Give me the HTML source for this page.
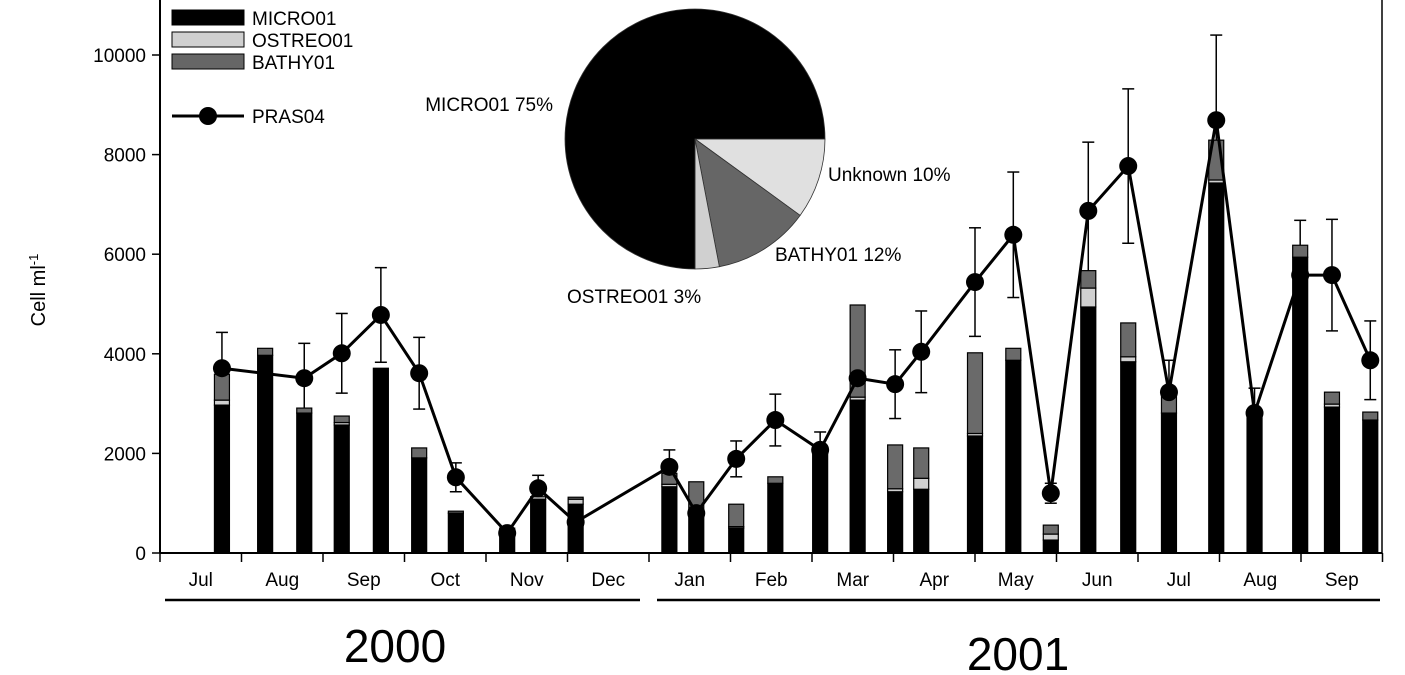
<!DOCTYPE html>
<html><head><meta charset="utf-8"><style>
body{margin:0;background:#fff}
svg{display:block;font-family:"Liberation Sans",Arial,sans-serif}
</style></head><body>
<svg id="chart" width="1405" height="675" viewBox="0 0 1405 675"></svg>
<script>
const monthLabels=["Jul","Aug","Sep","Oct","Nov","Dec","Jan","Feb","Mar","Apr","May","Jun","Jul","Aug","Sep"];
const yTicks=[0,2000,4000,6000,8000,10000];
const barMonth=[0.76,1.29,1.77,2.23,2.71,3.18,3.63,4.26,4.64,5.10,6.25,6.58,7.07,7.55,8.10,8.56,9.02,9.34,10.0,10.47,10.93,11.39,11.88,12.38,12.96,13.43,13.99,14.38,14.85];
const microVals=[2970,3970,2810,2570,3710,1910,800,500,1080,980,1330,800,500,1400,2100,3070,1230,1280,2350,3870,260,4940,3840,2810,7430,2810,5940,2930,2670];
const ostreoVals=[100,0,0,50,0,0,0,0,50,100,50,0,30,0,0,60,60,220,50,0,120,380,100,0,60,0,0,60,0];
const bathyVals=[520,140,100,130,0,200,40,0,0,40,220,630,450,130,0,1850,880,610,1620,240,180,350,680,360,800,0,240,240,160];
const prasMonth=[0.76,1.77,2.23,2.71,3.18,3.63,4.26,4.64,5.10,6.25,6.58,7.07,7.55,8.10,8.56,9.02,9.34,10.0,10.47,10.93,11.39,11.88,12.38,12.96,13.43,13.99,14.38,14.85];
const prasVals=[3710,3510,4010,4780,3610,1520,400,1300,620,1730,800,1890,2670,2070,3510,3390,4040,5440,6390,1200,6870,7770,3230,8690,2810,5580,5580,3870];
const prasErr=[720,700,800,950,720,290,0,260,0,340,0,360,520,360,0,690,820,1090,1260,200,1380,1550,640,1710,500,1100,1120,790];
const pieLabels=["Unknown 10%","BATHY01 12%","OSTREO01 3%","MICRO01 75%"];
const pieVals=[10,12,3,75];

const NS="http://www.w3.org/2000/svg";
const svg=document.getElementById("chart");
function mk(tag,attrs,parent){const e=document.createElementNS(NS,tag);for(const k in attrs)e.setAttribute(k,attrs[k]);(parent||svg).appendChild(e);return e;}
const X0=160,MW=81.5,Y0=553,YS=0.0498;
function xs(m){return X0+m*MW;}
function ys(v){return Y0-v*YS;}

let a=mk("line",{x1:X0,y1:0,x2:X0,y2:Y0,stroke:"#000","stroke-width":2});


a=mk("line",{x1:X0,y1:Y0,x2:1382,y2:Y0,stroke:"#000","stroke-width":2});


a=mk("line",{x1:1382,y1:0,x2:1382,y2:Y0,stroke:"#000","stroke-width":1.5});


yTicks.forEach(v=>{
  const l=mk("line",{x1:X0-8,y1:ys(v),x2:X0,y2:ys(v),stroke:"#000","stroke-width":1.5});
  
  
  const t=mk("text",{x:X0-14,y:ys(v)+7,"text-anchor":"end","font-size":19});
  t.textContent=v;
  
  
});
for(let i=0;i<=monthLabels.length;i++){
  const l=mk("line",{x1:xs(i),y1:Y0,x2:xs(i),y2:Y0+9,stroke:"#000","stroke-width":1.5});
  
  
}
monthLabels.forEach((m,i)=>{
  const t=mk("text",{x:xs(i+0.5),y:Y0+33,"text-anchor":"middle","font-size":19});
  t.textContent=m;
  
  
});
let yl=mk("text",{x:0,y:0,"text-anchor":"middle","font-size":20,transform:"translate(45,290) rotate(-90)"});
yl.innerHTML='Cell ml<tspan dy="-7" font-size="13">-1</tspan>';



[[165,640,"2000",395,662],[657,1380,"2001",1018,670]].forEach(d=>{
  const l=mk("line",{x1:d[0],y1:600,x2:d[1],y2:600,stroke:"#000","stroke-width":2.5});
  
  
  const t=mk("text",{x:d[3],y:d[4],"text-anchor":"middle","font-size":46});
  t.textContent=d[2];
  
  
});

prasMonth.forEach((m,i)=>{
  if(!prasErr[i])return;
  const x=xs(m),t=ys(prasVals[i]+prasErr[i]),b=ys(Math.max(0,prasVals[i]-prasErr[i]));
  const g=mk("g",{stroke:"#000","stroke-width":1.5});
  
  
  mk("line",{x1:x,y1:t,x2:x,y2:b},g);
  mk("line",{x1:x-6,y1:t,x2:x+6,y2:t},g);
  mk("line",{x1:x-6,y1:b,x2:x+6,y2:b},g);
});

const BW=15;
barMonth.forEach((m,i)=>{
  const x=xs(m)-BW/2;
  const g=mk("g",{stroke:"#000","stroke-width":1.2});
  
  
  let base=0;
  [[microVals[i],"#000","micro01"],[ostreoVals[i],"#d0d0d0","ostreo01"],[bathyVals[i],"#6a6a6a","bathy01"]].forEach(s=>{
    if(s[0]<=0)return;
    const r=mk("rect",{x:x,y:ys(base+s[0]),width:BW,height:s[0]*YS,fill:s[1]},g);
    
    
    base+=s[0];
  });
});

const pts=prasMonth.map((m,i)=>xs(m)+","+ys(prasVals[i])).join(" ");
const pl=mk("polyline",{points:pts,fill:"none",stroke:"#000","stroke-width":3});


prasMonth.forEach((m,i)=>{
  const c=mk("circle",{cx:xs(m),cy:ys(prasVals[i]),r:9,fill:"#000"});
  
  
});

const PCX=695,PCY=139,PR=130;
const pieColors=["#e0e0e0","#666","#d0d0d0","#000"];
let ang=0;const tot=pieVals.reduce((s,v)=>s+v,0);
pieVals.forEach((v,i)=>{
  const a0=ang,a1=ang+v/tot*2*Math.PI;ang=a1;
  const x0=PCX+PR*Math.cos(a0),y0=PCY+PR*Math.sin(a0),x1=PCX+PR*Math.cos(a1),y1=PCY+PR*Math.sin(a1);
  const p=mk("path",{d:`M${PCX},${PCY} L${x0},${y0} A${PR},${PR} 0 ${a1-a0>Math.PI?1:0} 1 ${x1},${y1} Z`,fill:pieColors[i],stroke:"#333","stroke-width":0.8});
  
  
});
[[828,181,"start"],[775,261,"start"],[567,303,"start"],[553,111,"end"]].forEach((d,i)=>{
  const t=mk("text",{x:d[0],y:d[1],"text-anchor":d[2],"font-size":19});
  t.textContent=pieLabels[i];
  
  
});

const leg=mk("g",{});


[["MICRO01","#000"],["OSTREO01","#d0d0d0"],["BATHY01","#666"]].forEach((d,i)=>{
  const y=10+i*22;
  const r=mk("rect",{x:172,y:y,width:72,height:15,fill:d[1],stroke:"#000","stroke-width":1},leg);
  
  
  const t=mk("text",{x:252,y:y+15,"font-size":19},leg);
  t.textContent=d[0];
  
  
});
const ll=mk("line",{x1:172,y1:116,x2:244,y2:116,stroke:"#000","stroke-width":3},leg);


const lc=mk("circle",{cx:208,cy:116,r:9,fill:"#000"},leg);


const lt=mk("text",{x:252,y:123,"font-size":19},leg);
lt.textContent="PRAS04";


</script>
</body></html>
